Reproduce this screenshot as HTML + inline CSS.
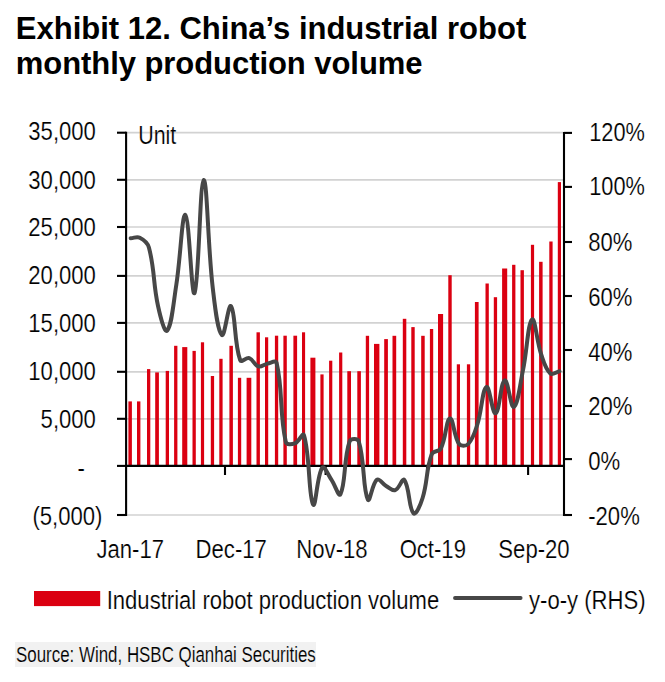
<!DOCTYPE html>
<html lang="en"><head><meta charset="utf-8"><title>Exhibit 12. China’s industrial robot monthly production volume</title>
<style>html,body{margin:0;padding:0;background:#fff}body{position:relative;width:665px;height:682px;overflow:hidden;font-family:"Liberation Sans", Arial, Helvetica, sans-serif;color:#000}svg{display:block;position:absolute;left:0;top:0}text{font-family:"Liberation Sans", Arial, Helvetica, sans-serif;fill:#000}.n text{stroke:#fff;stroke-width:.2px;paint-order:fill stroke}h1{position:absolute;left:15.8px;top:11.2px;margin:0;font-size:31px;line-height:35px;font-weight:bold;white-space:nowrap;letter-spacing:0}h1 span{display:block}h1 span+span{letter-spacing:-0.06px}.src{position:absolute;left:14.9px;top:641.8px;width:301.0px;height:25.2px;background:#f1f1f1;margin:0}.src span{position:absolute;left:1.4px;top:0.2px;font-size:21.2px;line-height:25.2px;white-space:nowrap;transform:scaleX(0.798);transform-origin:0 50%;-webkit-text-stroke:.15px #f1f1f1;paint-order:fill stroke}</style></head><body>
<svg width="665" height="682" viewBox="0 0 665 682" role="img" aria-label="Bar and line chart">
<rect width="665" height="682" fill="#fff"/>
<g stroke="#d2d2d2" stroke-width="1.7">
<line x1="126.1" y1="132.7" x2="564.0" y2="132.7"/>
<line x1="126.1" y1="179.8" x2="564.0" y2="179.8"/>
<line x1="126.1" y1="227.0" x2="564.0" y2="227.0"/>
<line x1="126.1" y1="275.9" x2="564.0" y2="275.9"/>
<line x1="126.1" y1="322.9" x2="564.0" y2="322.9"/>
<line x1="126.1" y1="371.8" x2="564.0" y2="371.8"/>
<line x1="126.1" y1="418.8" x2="564.0" y2="418.8"/>
<line x1="126.1" y1="515.0" x2="564.0" y2="515.0"/>
</g>
<g fill="#db0011">
<rect x="128.4" y="401.4" width="3.5" height="64.5"/>
<rect x="137.0" y="401.4" width="3.4" height="64.5"/>
<rect x="147.0" y="369.1" width="3.3" height="96.8"/>
<rect x="155.2" y="372.4" width="3.7" height="93.5"/>
<rect x="165.7" y="370.9" width="3.3" height="95.0"/>
<rect x="174.1" y="345.8" width="3.3" height="120.1"/>
<rect x="182.2" y="347.1" width="5.1" height="118.8"/>
<rect x="192.5" y="350.9" width="3.3" height="115.0"/>
<rect x="200.9" y="342.3" width="3.2" height="123.6"/>
<rect x="210.8" y="376.0" width="3.3" height="89.9"/>
<rect x="219.3" y="358.8" width="3.3" height="107.1"/>
<rect x="229.4" y="345.8" width="3.5" height="120.1"/>
<rect x="237.9" y="377.8" width="3.3" height="88.1"/>
<rect x="246.6" y="377.8" width="4.7" height="88.1"/>
<rect x="256.5" y="332.3" width="3.4" height="133.6"/>
<rect x="265.0" y="337.3" width="3.2" height="128.6"/>
<rect x="274.9" y="335.7" width="3.3" height="130.2"/>
<rect x="283.4" y="335.7" width="3.4" height="130.2"/>
<rect x="293.4" y="335.7" width="3.7" height="130.2"/>
<rect x="302.0" y="332.3" width="3.1" height="133.6"/>
<rect x="310.4" y="357.7" width="5.0" height="108.2"/>
<rect x="320.4" y="374.4" width="3.2" height="91.5"/>
<rect x="329.1" y="360.7" width="3.2" height="105.2"/>
<rect x="339.1" y="352.5" width="3.2" height="113.4"/>
<rect x="347.3" y="371.2" width="3.7" height="94.7"/>
<rect x="357.3" y="371.2" width="3.6" height="94.7"/>
<rect x="365.8" y="335.8" width="3.3" height="130.1"/>
<rect x="374.0" y="343.9" width="5.4" height="122.0"/>
<rect x="384.2" y="339.1" width="3.7" height="126.8"/>
<rect x="392.5" y="335.8" width="3.7" height="130.1"/>
<rect x="402.8" y="318.8" width="3.5" height="147.1"/>
<rect x="411.3" y="327.1" width="3.4" height="138.8"/>
<rect x="421.2" y="335.8" width="3.5" height="130.1"/>
<rect x="429.9" y="329.0" width="3.3" height="136.9"/>
<rect x="438.0" y="314.0" width="5.1" height="151.9"/>
<rect x="448.3" y="275.2" width="3.4" height="190.7"/>
<rect x="456.8" y="364.3" width="3.2" height="101.6"/>
<rect x="466.9" y="364.3" width="3.3" height="101.6"/>
<rect x="474.9" y="302.0" width="3.7" height="163.9"/>
<rect x="485.5" y="283.5" width="3.3" height="182.4"/>
<rect x="493.8" y="297.2" width="3.3" height="168.7"/>
<rect x="502.1" y="268.5" width="5.1" height="197.4"/>
<rect x="512.1" y="264.8" width="3.3" height="201.1"/>
<rect x="520.5" y="270.2" width="3.4" height="195.7"/>
<rect x="530.9" y="244.8" width="3.2" height="221.1"/>
<rect x="539.1" y="261.8" width="3.5" height="204.1"/>
<rect x="549.3" y="241.5" width="3.3" height="224.4"/>
<rect x="557.8" y="182.1" width="3.2" height="283.8"/>
</g>
<g stroke="#000" stroke-width="2.1" fill="none">
<line x1="126.1" y1="131.7" x2="126.1" y2="516.0"/>
<line x1="564.0" y1="131.9" x2="564.0" y2="516.0"/>
<line x1="126.1" y1="465.9" x2="564.0" y2="465.9"/>
<line x1="117" y1="132.7" x2="126.1" y2="132.7"/>
<line x1="117" y1="179.8" x2="126.1" y2="179.8"/>
<line x1="117" y1="227.0" x2="126.1" y2="227.0"/>
<line x1="117" y1="275.9" x2="126.1" y2="275.9"/>
<line x1="117" y1="322.9" x2="126.1" y2="322.9"/>
<line x1="117" y1="371.8" x2="126.1" y2="371.8"/>
<line x1="117" y1="418.8" x2="126.1" y2="418.8"/>
<line x1="117" y1="465.9" x2="126.1" y2="465.9"/>
<line x1="117" y1="515.0" x2="126.1" y2="515.0"/>
<line x1="564.0" y1="132.9" x2="572" y2="132.9"/>
<line x1="564.0" y1="186.9" x2="572" y2="186.9"/>
<line x1="564.0" y1="242.0" x2="572" y2="242.0"/>
<line x1="564.0" y1="296.0" x2="572" y2="296.0"/>
<line x1="564.0" y1="350.0" x2="572" y2="350.0"/>
<line x1="564.0" y1="406.0" x2="572" y2="406.0"/>
<line x1="564.0" y1="459.1" x2="572" y2="459.1"/>
<line x1="564.0" y1="515.0" x2="572" y2="515.0"/>
<line x1="225.0" y1="465.9" x2="225.0" y2="475.0"/>
<line x1="325.6" y1="465.9" x2="325.6" y2="475.0"/>
<line x1="427.0" y1="465.9" x2="427.0" y2="475.0"/>
<line x1="528.1" y1="465.9" x2="528.1" y2="475.0"/>
</g>
<path d="M130.66,238.20 C134.31,238.00 136.82,236.19 139.78,237.70 C144.12,239.91 147.56,242.46 148.91,247.50 C154.86,269.78 152.97,282.97 158.03,306.00 C160.27,316.21 164.52,333.63 167.15,330.60 C171.82,325.23 173.38,303.36 176.28,285.00 C180.68,257.08 181.94,213.39 185.40,214.90 C189.24,216.59 191.53,298.72 194.52,293.00 C198.83,284.76 199.91,181.02 203.64,180.00 C207.21,179.02 207.71,245.00 212.77,288.00 C215.00,307.00 217.42,330.54 221.89,335.00 C224.71,337.82 228.42,302.62 231.01,306.20 C235.72,312.70 233.90,342.43 240.14,360.20 C241.20,363.23 246.10,357.13 249.26,358.20 C253.40,359.61 254.28,365.19 258.38,366.40 C261.58,367.35 263.78,364.29 267.51,363.60 C271.08,362.93 275.87,359.77 276.63,363.00 C283.17,391.05 279.22,413.00 285.75,441.80 C286.51,445.16 291.72,444.52 294.87,443.40 C299.02,441.92 302.91,431.66 304.00,435.30 C310.21,456.14 308.39,496.21 313.12,504.60 C315.69,509.17 317.02,474.83 322.24,467.70 C324.32,464.87 327.94,474.74 331.37,479.70 C335.24,485.30 338.72,497.80 340.49,494.10 C346.02,482.48 343.38,459.41 349.61,441.40 C350.67,438.33 357.76,438.28 358.73,441.40 C365.05,461.56 362.54,488.43 367.86,499.60 C369.83,503.75 372.13,483.34 376.98,479.70 C379.43,477.86 382.28,483.72 386.10,485.90 C389.58,487.88 392.13,491.10 395.23,490.10 C399.43,488.74 402.29,477.38 404.35,480.00 C409.58,486.66 408.66,508.55 413.47,513.30 C415.96,515.75 420.51,504.73 422.59,498.00 C427.81,481.13 425.84,470.24 431.72,454.30 C433.14,450.44 438.97,452.17 440.84,448.50 C446.27,437.85 446.05,419.47 449.96,418.50 C453.35,417.67 453.63,436.37 459.09,444.00 C460.93,446.57 466.04,446.32 468.21,444.00 C473.34,438.52 474.72,432.66 477.33,424.50 C482.02,409.86 482.22,389.60 486.46,387.00 C489.51,385.12 492.31,414.50 495.58,413.30 C499.60,411.82 500.70,381.68 504.70,380.30 C508.00,379.16 510.70,408.69 513.82,407.00 C518.00,404.73 519.87,385.16 522.95,370.40 C527.17,350.16 527.78,323.24 532.07,319.50 C535.07,316.88 536.58,340.85 541.19,354.50 C543.88,362.45 545.27,368.88 550.32,373.50 C552.57,375.56 555.79,372.12 559.44,371.20" fill="none" stroke="#474747" stroke-width="4.0" stroke-linecap="round" stroke-linejoin="round"/>
<g class="n">
<text x="138.2" y="143.5" font-size="26.1" text-anchor="start" textLength="38.1" lengthAdjust="spacingAndGlyphs">Unit</text>
<text x="95.9" y="140.2" font-size="26.1" text-anchor="end" textLength="67.6" lengthAdjust="spacingAndGlyphs">35,000</text>
<text x="95.9" y="188.5" font-size="26.1" text-anchor="end" textLength="67.6" lengthAdjust="spacingAndGlyphs">30,000</text>
<text x="95.9" y="236.4" font-size="26.1" text-anchor="end" textLength="67.6" lengthAdjust="spacingAndGlyphs">25,000</text>
<text x="95.9" y="284.3" font-size="26.1" text-anchor="end" textLength="67.6" lengthAdjust="spacingAndGlyphs">20,000</text>
<text x="95.9" y="331.9" font-size="26.1" text-anchor="end" textLength="67.6" lengthAdjust="spacingAndGlyphs">15,000</text>
<text x="95.9" y="380.0" font-size="26.1" text-anchor="end" textLength="67.6" lengthAdjust="spacingAndGlyphs">10,000</text>
<text x="95.9" y="428.0" font-size="26.1" text-anchor="end" textLength="55.3" lengthAdjust="spacingAndGlyphs">5,000</text>
<text x="84.8" y="477.0" font-size="26.1" text-anchor="end" textLength="7.4" lengthAdjust="spacingAndGlyphs">-</text>
<text x="102.4" y="524.7" font-size="26.1" text-anchor="end" textLength="70.0" lengthAdjust="spacingAndGlyphs">(5,000)</text>
<text x="589.2" y="140.6" font-size="26.1" text-anchor="start" textLength="55.7" lengthAdjust="spacingAndGlyphs">120%</text>
<text x="589.2" y="195.2" font-size="26.1" text-anchor="start" textLength="55.7" lengthAdjust="spacingAndGlyphs">100%</text>
<text x="588.2" y="250.6" font-size="26.1" text-anchor="start" textLength="44.2" lengthAdjust="spacingAndGlyphs">80%</text>
<text x="588.2" y="305.6" font-size="26.1" text-anchor="start" textLength="44.2" lengthAdjust="spacingAndGlyphs">60%</text>
<text x="588.2" y="360.6" font-size="26.1" text-anchor="start" textLength="44.2" lengthAdjust="spacingAndGlyphs">40%</text>
<text x="588.2" y="414.7" font-size="26.1" text-anchor="start" textLength="44.2" lengthAdjust="spacingAndGlyphs">20%</text>
<text x="588.2" y="469.5" font-size="26.1" text-anchor="start" textLength="32.0" lengthAdjust="spacingAndGlyphs">0%</text>
<text x="588.2" y="524.7" font-size="26.1" text-anchor="start" textLength="51.6" lengthAdjust="spacingAndGlyphs">-20%</text>
<text x="130.2" y="557.7" font-size="26.1" text-anchor="middle" textLength="67.6" lengthAdjust="spacingAndGlyphs">Jan-17</text>
<text x="231.2" y="557.7" font-size="26.1" text-anchor="middle" textLength="71.3" lengthAdjust="spacingAndGlyphs">Dec-17</text>
<text x="332.0" y="557.7" font-size="26.1" text-anchor="middle" textLength="71.3" lengthAdjust="spacingAndGlyphs">Nov-18</text>
<text x="432.8" y="557.7" font-size="26.1" text-anchor="middle" textLength="66.3" lengthAdjust="spacingAndGlyphs">Oct-19</text>
<text x="534.0" y="557.7" font-size="26.1" text-anchor="middle" textLength="71.3" lengthAdjust="spacingAndGlyphs">Sep-20</text>
<rect x="34.0" y="591.0" width="66.2" height="15.1" fill="#db0011"/>
<text x="106.7" y="608.8" font-size="26.1" text-anchor="start" textLength="332.5" lengthAdjust="spacingAndGlyphs">Industrial robot production volume</text>
<line x1="455" y1="598.0" x2="520.6" y2="598.0" stroke="#474747" stroke-width="3.9" stroke-linecap="round"/>
<text x="529.0" y="608.8" font-size="26.1" text-anchor="start" textLength="116.5" lengthAdjust="spacingAndGlyphs">y-o-y (RHS)</text>
</g>
</svg>
<h1><span>Exhibit 12. China’s industrial robot</span><span>monthly production volume</span></h1>
<p class="src"><span>Source: Wind, HSBC Qianhai Securities</span></p>
</body></html>
